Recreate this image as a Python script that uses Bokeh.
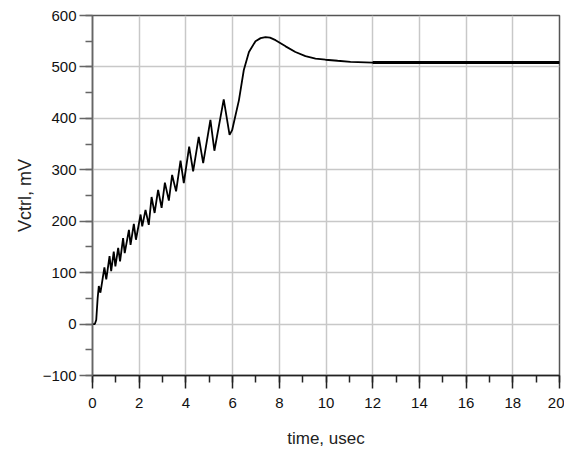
from bokeh.plotting import figure
from bokeh.models import SingleIntervalTicker, Range1d
from bokeh.embed import file_html
from bokeh.resources import INLINE

# waveform vertices (time in usec, Vctrl in mV)
t_vals = [0.0, 0.10, 0.16, 0.22, 0.27, 0.34, 0.51, 0.59, 0.73, 0.80, 0.91, 0.98,
          1.10, 1.18, 1.31, 1.38, 1.56, 1.63, 1.77, 1.86, 2.06, 2.13, 2.27, 2.41,
          2.53, 2.66, 2.81, 2.96, 3.10, 3.27, 3.41, 3.58, 3.77, 3.91, 4.14, 4.31,
          4.55, 4.74, 5.05, 5.22, 5.62, 5.87, 5.98, 6.12, 6.27, 6.48, 6.70, 6.98,
          7.20, 7.41, 7.60, 7.84, 8.27, 8.69, 9.12, 9.55, 9.98, 10.5, 11.05, 12.0,
          16.0, 20.0]
v_vals = [0, 0, 8, 50, 74, 61, 110, 87, 132, 103, 141, 112,
          148, 122, 167, 138, 183, 154, 195, 164, 213, 190, 222, 193,
          247, 216, 261, 226, 275, 240, 290, 258, 318, 274, 345, 297,
          364, 313, 397, 337, 437, 368, 377, 405, 435, 494, 529, 550,
          556, 558, 557, 552, 540, 529, 521, 516, 514, 512, 510, 508.5,
          508.5, 508.5]

# steady-state segment drawn heavier (dense ripple)
steady_t = [12.0, 20.0]
steady_v = [508.5, 508.5]

x_ticks_interval = 2
y_ticks_interval = 100

p = figure(width=564, height=450, output_backend="svg", toolbar_location=None,
           x_range=Range1d(0, 20), y_range=Range1d(-100, 600),
           min_border_left=92, min_border_right=5, min_border_top=15, min_border_bottom=74)

p.line(t_vals, v_vals, line_color="black", line_width=1.8)
p.line(steady_t, steady_v, line_color="black", line_width=3)

p.xaxis.ticker = SingleIntervalTicker(interval=x_ticks_interval, num_minor_ticks=2)
p.yaxis.ticker = SingleIntervalTicker(interval=y_ticks_interval, num_minor_ticks=2)

p.xaxis.axis_label = "time, usec"
p.yaxis.axis_label = "Vctrl, mV"

for ax in (p.xaxis, p.yaxis):
    ax.axis_label_text_font = "Liberation Sans"
    ax.axis_label_text_font_style = "normal"
    ax.axis_label_text_color = "#222222"
    ax.major_label_text_font = "Liberation Sans"
    ax.major_label_text_font_size = "15px"
    ax.major_label_text_color = "#111111"
    ax.major_tick_out = 13
    ax.major_tick_in = 0
    ax.minor_tick_out = 7
    ax.minor_tick_in = 0
    ax.major_tick_line_width = 1.5
    ax.minor_tick_line_width = 1.5

p.xaxis.axis_label_text_font_size = "17px"
p.yaxis.axis_label_text_font_size = "18px"

p.yaxis.axis_line_color = "#666666"
p.yaxis.major_tick_line_color = "#666666"
p.yaxis.minor_tick_line_color = "#666666"
p.yaxis.axis_line_width = 1.5
p.yaxis.major_label_standoff = 3
p.yaxis.axis_label_standoff = 5

p.xaxis.axis_line_color = "#222222"
p.xaxis.major_tick_line_color = "#222222"
p.xaxis.minor_tick_line_color = "#222222"
p.xaxis.axis_line_width = 1.5
p.xaxis.major_label_standoff = 9
p.xaxis.axis_label_standoff = 18

p.xgrid.grid_line_color = "#c8c8c8"
p.ygrid.grid_line_color = "#c8c8c8"
p.xgrid.grid_line_width = 1.5
p.ygrid.grid_line_width = 1.5

p.outline_line_color = "#555555"
p.outline_line_width = 1.5
p.background_fill_color = "white"
p.border_fill_color = "white"

open("out.html", "w").write(file_html(p, INLINE))
